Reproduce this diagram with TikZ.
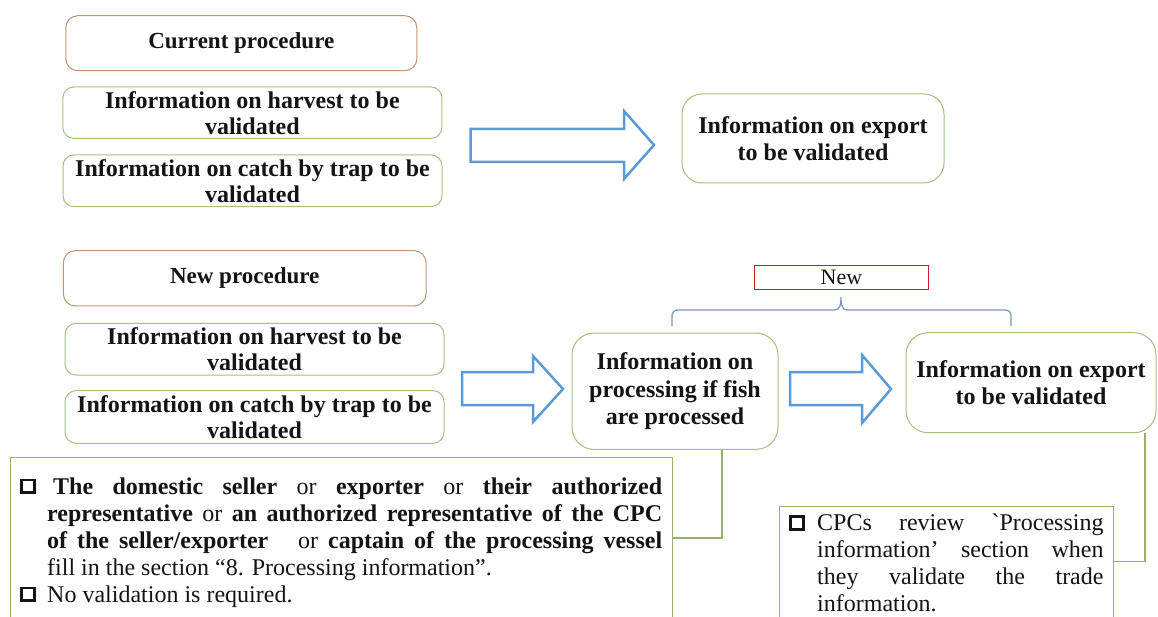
\documentclass[tikz,border=0pt]{standalone}
\usepackage{fontspec}
\setmainfont{Liberation Serif}[Ligatures=TeXOff]
\definecolor{procol}{RGB}{196,146,116}
\definecolor{grcol}{RGB}{165,192,125}
\definecolor{conncol}{RGB}{150,178,108}
\definecolor{arrcol}{RGB}{91,155,213}
\definecolor{bracecol}{RGB}{120,150,185}
\definecolor{newcol}{RGB}{200,30,40}
\definecolor{txtcol}{RGB}{20,20,20}
\newcommand\sqb{\raisebox{2.8pt}{\setlength\fboxsep{0pt}\setlength\fboxrule{2.8pt}\fbox{\rule{0pt}{10pt}\rule{10pt}{0pt}}}}
\begin{document}
\begin{tikzpicture}[x=1pt,y=-1pt,
  hdr/.style={draw=procol, line width=1pt, rounded corners=12pt, inner sep=0pt,
    font=\fontsize{23}{26}\selectfont\bfseries, align=center, text=txtcol},
  gbox/.style={draw=grcol, line width=1pt, rounded corners=11pt, inner sep=0pt,
    font=\fontsize{24}{26}\selectfont\bfseries, align=center, text=txtcol},
  bigbox/.style={gbox, rounded corners=22pt, font=\fontsize{24}{27.5}\selectfont\bfseries},
  blockarrow/.style={draw=arrcol, line width=2.5pt, fill=white, line join=miter},
  conn/.style={draw=conncol, line width=1.5pt},
  txtbox/.style={draw=conncol, line width=1pt, anchor=north west, inner xsep=10pt,
    align=justify, font=\fontsize{24}{27}\selectfont, text=txtcol},
  newbox/.style={draw=newcol, line width=1pt, inner sep=0pt,
    font=\fontsize{22}{24}\selectfont, text=txtcol},
  bracestyle/.style={draw=bracecol, line width=1.2pt}
]
\fill[white] (0,0) rectangle (1158,617);
\useasboundingbox (0,0) rectangle (1158,617);

% current procedure
\node[hdr, minimum width=351pt, minimum height=55pt] (cur) at (241.3,43.2) {Current procedure};
\node[gbox, minimum width=379pt, minimum height=51.5pt] (h1) at (252.4,112.7) {Information on harvest to be\\validated};
\node[gbox, minimum width=379pt, minimum height=51.7pt] (c1) at (252.5,180.8) {Information on catch by trap to be\\validated};
\node[bigbox, rounded corners=20pt, minimum width=262pt, minimum height=89pt] (e1) at (813,138.5) {Information on export\\to be validated};
\draw[blockarrow] (470.7,129) -- (624,129) -- (624,111) -- (654,145) -- (624,179) -- (624,162) -- (470.7,162) -- cycle;

% new procedure
\node[hdr, minimum width=362.7pt, minimum height=55.3pt] (np) at (244.7,278.3) {New procedure};
\node[gbox, minimum width=379pt, minimum height=51.7pt] (h2) at (254.5,349.2) {Information on harvest to be\\validated};
\node[gbox, minimum width=379pt, minimum height=52.6pt] (c2) at (254.5,417) {Information on catch by trap to be\\validated};
\node[bigbox, minimum width=206pt, minimum height=116.3pt] (proc) at (675,391.2) {Information on\\processing if fish\\are processed};
\node[bigbox, minimum width=250pt, minimum height=100pt] (e2) at (1031,382.7) {Information on export\\to be validated};
\draw[blockarrow] (462,372) -- (533,372) -- (533,356) -- (563,389) -- (533,422) -- (533,405) -- (462,405) -- cycle;
\draw[blockarrow] (790,372) -- (862,372) -- (862,355) -- (891,389) -- (862,423) -- (862,405) -- (790,405) -- cycle;

% new label and brace
\node[newbox, minimum width=174.7pt, minimum height=23.3pt] (new) at (841.4,277.4) {New};
\draw[bracestyle] (672,326) -- (672,315) to[out=90,in=180] (677,310) -- (835,310)
  to[out=0,in=-90] (841,297) to[out=-90,in=180] (847,310) -- (1006,310)
  to[out=0,in=90] (1011,315) -- (1011,326);

% text boxes
\node[txtbox, text width=642pt, inner ysep=20pt] (lbox) at (9.7,457) {%
\hangindent=27pt\hangafter=1\noindent\makebox[33pt][l]{\sqb}\textbf{The domestic seller} or \textbf{exporter} or \textbf{their authorized}\linebreak
\textbf{representative} or \textbf{an authorized representative of the CPC}\linebreak
\textbf{of the seller/exporter}\ \ \ or \textbf{captain of the processing vessel}\linebreak
fill in the section “8. Processing information”.\par
\hangindent=27pt\hangafter=1\noindent\makebox[27pt][l]{\sqb}No validation is required.\par};
\node[txtbox, text width=314.3pt, inner ysep=7.7pt] (rbox) at (778.7,506) {%
\hangindent=28pt\hangafter=1\noindent\makebox[28pt][l]{\sqb}CPCs review `Processing\linebreak
information’ section when\linebreak
they validate the trade\linebreak
information.\par};

% connectors
\draw[conn] ([xshift=-56.3pt]proc.south east) |- ([yshift=-81pt]lbox.north east);
\draw[conn] ([xshift=-11.3pt]e2.south east) |- ([yshift=-55.7pt]rbox.north east);
\end{tikzpicture}
\end{document}
